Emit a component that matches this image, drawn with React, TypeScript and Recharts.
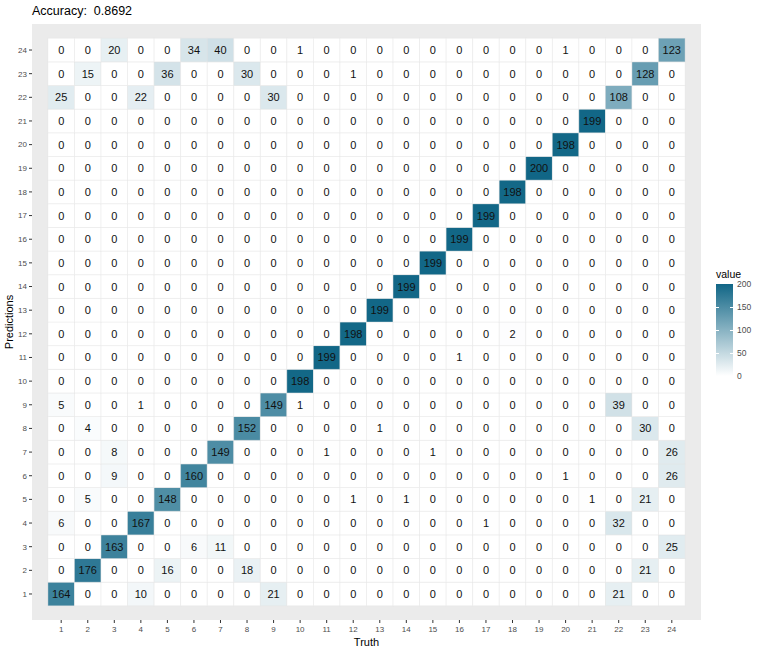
import { ScatterChart, Scatter, XAxis, YAxis, CartesianGrid, Label } from "recharts";

const truthLabels = [1, 2, 3, 4, 5, 6, 7, 8, 9, 10, 11, 12, 13, 14, 15, 16, 17, 18, 19, 20, 21, 22, 23, 24];
const predictionLabels = [1, 2, 3, 4, 5, 6, 7, 8, 9, 10, 11, 12, 13, 14, 15, 16, 17, 18, 19, 20, 21, 22, 23, 24];

// one row per predicted class, counts by truth class 1..24
const pred1 = [164, 0, 0, 10, 0, 0, 0, 0, 21, 0, 0, 0, 0, 0, 0, 0, 0, 0, 0, 0, 0, 21, 0, 0];
const pred2 = [0, 176, 0, 0, 16, 0, 0, 18, 0, 0, 0, 0, 0, 0, 0, 0, 0, 0, 0, 0, 0, 0, 21, 0];
const pred3 = [0, 0, 163, 0, 0, 6, 11, 0, 0, 0, 0, 0, 0, 0, 0, 0, 0, 0, 0, 0, 0, 0, 0, 25];
const pred4 = [6, 0, 0, 167, 0, 0, 0, 0, 0, 0, 0, 0, 0, 0, 0, 0, 1, 0, 0, 0, 0, 32, 0, 0];
const pred5 = [0, 5, 0, 0, 148, 0, 0, 0, 0, 0, 0, 1, 0, 1, 0, 0, 0, 0, 0, 0, 1, 0, 21, 0];
const pred6 = [0, 0, 9, 0, 0, 160, 0, 0, 0, 0, 0, 0, 0, 0, 0, 0, 0, 0, 0, 1, 0, 0, 0, 26];
const pred7 = [0, 0, 8, 0, 0, 0, 149, 0, 0, 0, 1, 0, 0, 0, 1, 0, 0, 0, 0, 0, 0, 0, 0, 26];
const pred8 = [0, 4, 0, 0, 0, 0, 0, 152, 0, 0, 0, 0, 1, 0, 0, 0, 0, 0, 0, 0, 0, 0, 30, 0];
const pred9 = [5, 0, 0, 1, 0, 0, 0, 0, 149, 1, 0, 0, 0, 0, 0, 0, 0, 0, 0, 0, 0, 39, 0, 0];
const pred10 = [0, 0, 0, 0, 0, 0, 0, 0, 0, 198, 0, 0, 0, 0, 0, 0, 0, 0, 0, 0, 0, 0, 0, 0];
const pred11 = [0, 0, 0, 0, 0, 0, 0, 0, 0, 0, 199, 0, 0, 0, 0, 1, 0, 0, 0, 0, 0, 0, 0, 0];
const pred12 = [0, 0, 0, 0, 0, 0, 0, 0, 0, 0, 0, 198, 0, 0, 0, 0, 0, 2, 0, 0, 0, 0, 0, 0];
const pred13 = [0, 0, 0, 0, 0, 0, 0, 0, 0, 0, 0, 0, 199, 0, 0, 0, 0, 0, 0, 0, 0, 0, 0, 0];
const pred14 = [0, 0, 0, 0, 0, 0, 0, 0, 0, 0, 0, 0, 0, 199, 0, 0, 0, 0, 0, 0, 0, 0, 0, 0];
const pred15 = [0, 0, 0, 0, 0, 0, 0, 0, 0, 0, 0, 0, 0, 0, 199, 0, 0, 0, 0, 0, 0, 0, 0, 0];
const pred16 = [0, 0, 0, 0, 0, 0, 0, 0, 0, 0, 0, 0, 0, 0, 0, 199, 0, 0, 0, 0, 0, 0, 0, 0];
const pred17 = [0, 0, 0, 0, 0, 0, 0, 0, 0, 0, 0, 0, 0, 0, 0, 0, 199, 0, 0, 0, 0, 0, 0, 0];
const pred18 = [0, 0, 0, 0, 0, 0, 0, 0, 0, 0, 0, 0, 0, 0, 0, 0, 0, 198, 0, 0, 0, 0, 0, 0];
const pred19 = [0, 0, 0, 0, 0, 0, 0, 0, 0, 0, 0, 0, 0, 0, 0, 0, 0, 0, 200, 0, 0, 0, 0, 0];
const pred20 = [0, 0, 0, 0, 0, 0, 0, 0, 0, 0, 0, 0, 0, 0, 0, 0, 0, 0, 0, 198, 0, 0, 0, 0];
const pred21 = [0, 0, 0, 0, 0, 0, 0, 0, 0, 0, 0, 0, 0, 0, 0, 0, 0, 0, 0, 0, 199, 0, 0, 0];
const pred22 = [25, 0, 0, 22, 0, 0, 0, 0, 30, 0, 0, 0, 0, 0, 0, 0, 0, 0, 0, 0, 0, 108, 0, 0];
const pred23 = [0, 15, 0, 0, 36, 0, 0, 30, 0, 0, 0, 1, 0, 0, 0, 0, 0, 0, 0, 0, 0, 0, 128, 0];
const pred24 = [0, 0, 20, 0, 0, 34, 40, 0, 0, 1, 0, 0, 0, 0, 0, 0, 0, 0, 0, 1, 0, 0, 0, 123];

const countsByPrediction = [
  pred1, pred2, pred3, pred4, pred5, pred6, pred7, pred8, pred9, pred10, pred11, pred12,
  pred13, pred14, pred15, pred16, pred17, pred18, pred19, pred20, pred21, pred22, pred23, pred24,
];

const accuracy = "0.8692";
const legendTicks = [200, 150, 100, 50, 0];
const legendMax = 200;

const W = 763;
const H = 654;
const margin = { top: 24, right: 62, bottom: 0, left: 0 };
const Y_AXIS_W = 32;
const X_AXIS_H = 34;
const PLOT_W = W - margin.left - margin.right - Y_AXIS_W;
const PLOT_H = H - margin.top - margin.bottom - X_AXIS_H;
const DOMAIN: [number, number] = [-0.1, 25.1];
const CELL_W = PLOT_W / (DOMAIN[1] - DOMAIN[0]);
const CELL_H = PLOT_H / (DOMAIN[1] - DOMAIN[0]);

const HIGH = [17, 102, 134];
const HIGH_HEX = "#116686";

function fillFor(v: number) {
  const t = Math.min(1, v / legendMax);
  const c = HIGH.map((h) => Math.round(255 + (h - 255) * t));
  return `rgb(${c[0]},${c[1]},${c[2]})`;
}

const cells = countsByPrediction.flatMap((row, i) =>
  row.map((value, j) => ({ truth: truthLabels[j], prediction: predictionLabels[i], value }))
);

const Tile = (props: any) => {
  const { cx, cy, payload } = props;
  return (
    <g>
      <rect
        x={cx - CELL_W / 2}
        y={cy - CELL_H / 2}
        width={CELL_W}
        height={CELL_H}
        fill={fillFor(payload.value)}
        stroke="#e6e6e6"
        strokeOpacity={0.5}
        strokeWidth={0.8}
      />
      <text
        x={cx}
        y={cy}
        textAnchor="middle"
        dominantBaseline="central"
        fontSize={11}
        fill="#111"
      >
        {payload.value}
      </text>
    </g>
  );
};

const tickStyle = { fontSize: 8, fill: "#4d4d4d" };

export default function App() {
  const barTop = 284;
  const barH = 92;
  return (
    <div
      style={{
        position: "absolute",
        left: 0,
        top: 0,
        width: W,
        height: H,
        background: "#fff",
        fontFamily: '"Liberation Sans", Arial, sans-serif',
      }}
    >
      <div style={{ position: "absolute", left: 32, top: 4, fontSize: 12.5, color: "#000", whiteSpace: "pre" }}>
        {`Accuracy:  ${accuracy}`}
      </div>
      <ScatterChart width={W} height={H} margin={margin}>
        <CartesianGrid fill="#EBEBEB" stroke="none" horizontal={false} vertical={false} />
        <XAxis
          type="number"
          dataKey="truth"
          domain={DOMAIN}
          ticks={truthLabels}
          interval={0}
          allowDataOverflow
          height={X_AXIS_H}
          axisLine={false}
          tickSize={3}
          tickMargin={3}
          tickLine={{ stroke: "#333" }}
          tick={tickStyle}
        >
          <Label value="Truth" position="insideBottom" offset={8} style={{ fontSize: 11, fill: "#000" }} />
        </XAxis>
        <YAxis
          type="number"
          dataKey="prediction"
          domain={DOMAIN}
          ticks={predictionLabels}
          interval={0}
          allowDataOverflow
          width={Y_AXIS_W}
          axisLine={false}
          tickSize={3}
          tickLine={{ stroke: "#333" }}
          tick={tickStyle}
        >
          <Label
            content={(p: any) => {
              const vb = p.viewBox;
              const cy = vb.y + vb.height / 2;
              return (
                <text
                  x={9}
                  y={cy}
                  transform={`rotate(-90, 9, ${cy})`}
                  textAnchor="middle"
                  dominantBaseline="central"
                  fontSize={11}
                  fill="#000"
                >
                  Predictions
                </text>
              );
            }}
          />
        </YAxis>
        <Scatter data={cells} shape={<Tile />} isAnimationActive={false} />
      </ScatterChart>
      <div style={{ position: "absolute", left: 716, top: 268, fontSize: 10.5, color: "#000" }}>value</div>
      <div
        style={{
          position: "absolute",
          left: 716,
          top: barTop,
          width: 17,
          height: barH,
          background: `linear-gradient(to bottom, ${HIGH_HEX}, #ffffff)`,
        }}
      />
      {legendTicks.map((t) => {
        const y = barTop + barH - (t / legendMax) * barH;
        return (
          <div key={t}>
            {t > 0 && t < legendMax && (
              <>
                <div style={{ position: "absolute", left: 716, top: y - 0.5, width: 3, height: 1, background: "#fff" }} />
                <div style={{ position: "absolute", left: 730, top: y - 0.5, width: 3, height: 1, background: "#fff" }} />
              </>
            )}
            <div
              style={{
                position: "absolute",
                left: 737,
                top: y - 5,
                fontSize: 8.5,
                lineHeight: "10px",
                color: "#4d4d4d",
              }}
            >
              {t}
            </div>
          </div>
        );
      })}
    </div>
  );
}
